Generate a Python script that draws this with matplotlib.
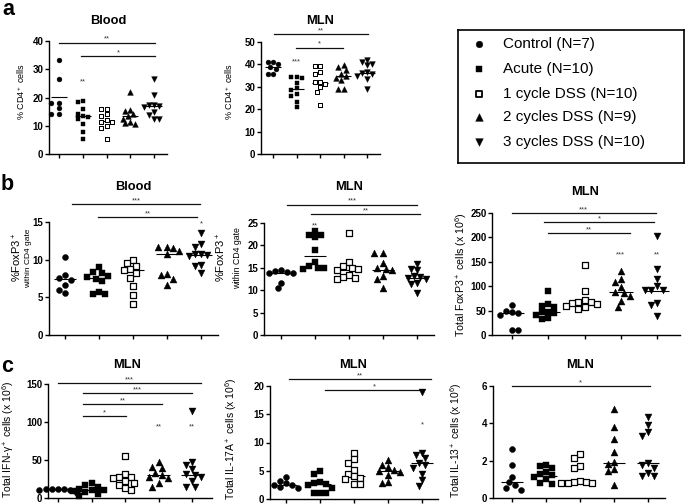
import numpy as np
import matplotlib
matplotlib.use("Agg")
import matplotlib.pyplot as plt

plt.rcParams["font.family"] = ["Liberation Sans", "DejaVu Sans"]
plt.rcParams["mathtext.fontset"] = "custom"
plt.rcParams["mathtext.rm"] = "Liberation Sans"
plt.rcParams["mathtext.it"] = "Liberation Sans:italic"
plt.rcParams["mathtext.bf"] = "Liberation Sans:bold"

W, H = 685, 504

groups = ["Control (N=7)", "Acute (N=10)", "1 cycle DSS (N=10)",
          "2 cycles DSS (N=9)", "3 cycles DSS (N=10)"]

# ---- panel a: % CD4+ cells ----
a_blood = [[33.3, 26.5, 18.0, 18.0, 16.2, 14.1, 14.1],
           [18.5, 18.7, 15.8, 14.3, 13.5, 13.0, 12.5, 10.5, 7.7, 5.3],
           [16.0, 15.8, 14.2, 13.3, 12.2, 11.5, 11.3, 10.0, 9.3, 5.3],
           [21.8, 15.6, 15.2, 14.0, 13.5, 12.5, 11.5, 10.8, 10.6],
           [26.6, 21.0, 17.5, 17.2, 17.0, 16.5, 15.0, 13.8, 12.5, 12.3]]
a_blood_med = [20.1, 13.3, 11.8, 13.5, 17.0]
a_blood_sig = [(0.0, 4.04, 39.4, "**"), (0.92, 4.04, 34.7, "*")]
a_blood_stars = [(1, 26.5, "**")]

a_mln = [[41.1, 41.1, 40.0, 38.9, 38.0, 35.9, 35.9],
         [34.4, 34.4, 34.1, 31.9, 29.3, 28.5, 27.0, 25.8, 23.3, 20.8],
         [39.2, 39.2, 36.6, 35.6, 32.3, 32.0, 31.3, 29.7, 27.7, 21.8],
         [39.9, 38.9, 37.7, 35.9, 34.6, 34.0, 32.9, 28.8, 28.8],
         [42.0, 41.1, 40.3, 39.6, 36.5, 36.0, 35.9, 35.0, 33.5, 28.8]]
a_mln_med = [38.9, 28.8, 31.7, 34.7, 36.2]
a_mln_sig = [(0.04, 4.04, 53.4, "**"), (0.96, 2.98, 47.5, "*")]
a_mln_stars = [(1, 42.6, "***")]

# ---- panel b: FoxP3 ----
b_blood = [[10.3, 7.9, 7.6, 7.3, 6.7, 6.0, 5.6],
           [9.0, 8.3, 8.2, 7.8, 7.7, 7.5, 7.2, 5.7, 5.5, 5.4],
           [10.0, 9.5, 9.2, 8.7, 8.6, 8.2, 7.6, 6.5, 5.3, 4.1],
           [11.7, 11.7, 11.6, 11.1, 10.8, 8.1, 8.0, 7.4, 6.6],
           [13.6, 12.1, 11.7, 10.8, 10.7, 10.6, 10.5, 9.3, 9.2, 8.2]]
b_blood_med = [7.4, 7.6, 8.6, 10.8, 10.6]
b_blood_sig = [(0.2, 3.98, 17.4, "***"), (0.98, 3.88, 15.6, "**")]
b_blood_stars = [(4, 15.1, "*")]

b_mln = [[14.4, 14.3, 14.0, 13.9, 13.8, 11.7, 10.4],
         [23.2, 22.4, 22.3, 21.8, 18.9, 16.3, 15.4, 15.0, 14.9, 14.8],
         [22.8, 16.3, 15.3, 15.0, 14.8, 14.4, 13.5, 13.0, 12.8, 12.6],
         [18.3, 18.3, 16.1, 15.0, 14.8, 14.6, 13.2, 12.4, 10.4],
         [15.8, 14.7, 14.4, 13.2, 12.9, 12.8, 12.5, 11.6, 11.3, 9.3]]
b_mln_med = [13.9, 17.6, 14.5, 14.6, 12.7]
b_mln_sig = [(0.18, 4.0, 29.1, "***"), (0.89, 4.1, 26.9, "**")]
b_mln_stars = [(1, 25.0, "**")]

b_total = [[61, 50, 48, 46, 42, 10, 10],
           [90, 64, 60, 58, 48, 47, 45, 40, 34, 32],
           [143, 90, 71, 68, 67, 65, 63, 60, 57, 54],
           [132, 115, 108, 98, 88, 86, 80, 70, 58],
           [202, 135, 114, 100, 93, 92, 92, 66, 62, 38]]
b_total_med = [46, 47, 66, 88, 91]
b_total_sig = [(0.0, 3.96, 250, "***"), (0.88, 3.92, 231, "*"), (0.98, 3.25, 209, "**")]
b_total_stars = [(3, 171, "***"), (4, 171, "**")]

# ---- panel c: cytokines ----
c_ifn = [[12.5, 12, 12, 11.5, 11, 11, 6],
         [20, 17, 14, 12, 11, 10, 9, 8, 5, 3],
         [55, 32, 28, 28, 26, 23, 20, 17, 13, 11],
         [48, 41, 40, 33, 30, 28, 26, 20, 14],
         [115, 47, 44, 38, 32, 30, 28, 22, 15, 14]]
c_ifn_med = [11.5, 10.5, 24, 29.7, 30.6]
c_ifn_sig = [(0.0, 4.28, 150.7, "***"), (0.75, 4.0, 137.6, "***"),
             (0.75, 3.11, 123.6, "**"), (0.75, 2.04, 107.9, "*")]
c_ifn_stars = [(3, 97, "**"), (4, 97, "**")]

c_il17 = [[3.9, 3.2, 2.8, 2.5, 2.4, 2.1, 2.0],
          [5.0, 4.4, 3.0, 2.8, 2.6, 2.4, 2.0, 1.1, 1.0, 1.0],
          [8.2, 7.0, 6.3, 5.1, 4.5, 4.0, 3.8, 3.5, 2.7, 2.6],
          [6.9, 6.0, 5.6, 5.2, 5.0, 4.7, 4.2, 3.0, 2.8],
          [19.0, 8.2, 7.7, 7.2, 6.4, 6.0, 5.5, 4.5, 3.3, 2.3]]
c_il17_med = [2.5, 2.6, 4.1, 5.0, 6.3]
c_il17_sig = [(0.08, 4.27, 21.2, "**"), (1.15, 4.03, 19.3, "*")]
c_il17_stars = [(4, 13.7, "*")]

c_il13 = [[2.63, 1.78, 1.15, 0.85, 0.67, 0.53, 0.41],
          [1.76, 1.74, 1.63, 1.37, 1.3, 1.25, 1.1, 1.0, 0.8, 0.76],
          [2.36, 2.13, 1.72, 1.63, 0.9, 0.88, 0.85, 0.82, 0.8, 0.8],
          [4.76, 3.8, 3.14, 2.49, 1.95, 1.83, 1.55, 1.42, 0.71],
          [4.35, 3.9, 3.55, 3.3, 1.86, 1.75, 1.6, 1.36, 1.2, 1.2]]
c_il13_med = [0.85, 1.2, 0.85, 1.9, 1.87]
c_il13_sig = [(0.0, 4.05, 6.0, "*")]
c_il13_stars = []

MARKERS = [("o", "k"), ("s", "k"), ("s", "w"), ("^", "k"), ("v", "k")]
MSIZE = [4.3, 4.0, 4.0, 5.0, 5.0]


def fig_axes(fig, L, R, T, B):
    return fig.add_axes([L / W, 1 - B / H, (R - L) / W, (B - T) / H])


def swarm_x(ax, gx, vals, d):
    trans = ax.transData
    inv = trans.inverted()
    placed = []
    out = np.zeros(len(vals))
    for i in np.argsort(vals)[::-1]:
        px, py = trans.transform((gx, vals[i]))
        cx = px
        done = False
        for k in range(0, 30):
            for sgn in ((0,) if k == 0 else (-1, 1)):
                cand = px + sgn * k * d * 0.5
                if all((cand - qx) ** 2 + (py - qy) ** 2 >= d * d for qx, qy in placed):
                    cx = cand
                    done = True
                    break
            if done:
                break
        placed.append((cx, py))
        out[i] = inv.transform((cx, py))[0]
    return out


def panel(fig, box, data, med, sig, stars, ymax, ystep, title, title_xy,
          scale=1.0):
    L, R, T, B, t0, t4 = box
    sp = (t4 - t0) / 4
    ax = fig_axes(fig, L, R, T, B)
    ax.set_xlim((L - t0) / sp, (R - t0) / sp)
    ax.set_ylim(0, ymax)
    for s in ("top", "right"):
        ax.spines[s].set_visible(False)
    for s in ("left", "bottom"):
        ax.spines[s].set_linewidth(1.0)
    ax.set_xticks(range(5))
    ax.set_xticklabels([])
    ax.set_yticks(np.arange(0, ymax + ystep / 2, ystep))
    ax.tick_params(direction="out", length=3, width=1, labelsize=7, pad=1)
    for lbl in ax.get_yticklabels():
        lbl.set_fontweight("bold")

    for g, vals in enumerate(data):
        xs = swarm_x(ax, g, vals, 6.2 * scale)
        m, fc = MARKERS[g]
        ax.scatter(xs, vals, marker=m, s=(MSIZE[g] * scale) ** 2, facecolor=fc,
                   edgecolor="k", linewidth=0.9 * scale if fc == "w" else 0.3,
                   zorder=3, clip_on=False)
        ax.hlines(med[g], g - 0.33, g + 0.33, color="k", lw=0.8, zorder=2)

    for x0, x1, y, lab in sig:
        ax.plot([x0, x1], [y, y], color="#111111", lw=0.9, clip_on=False)
        ax.text((x0 + x1) / 2, y, lab, ha="center", va="bottom",
                fontsize=5.5, color="#333333", clip_on=False)
    for g, y, lab in stars:
        ax.annotate(lab, (g, y), xytext=(0, -3.2), textcoords="offset points",
                    ha="center", va="baseline", fontsize=5.5, color="#333333",
                    annotation_clip=False)

    fig.text(title_xy[0] / W, 1 - title_xy[1] / H, title, ha="center",
             va="center", fontsize=9.3, fontweight="bold")
    return ax


def ylab(fig, x, y, text, size):
    fig.text(x / W, 1 - y / H, text, rotation=90, ha="center", va="center",
             fontsize=size)


fig = plt.figure(figsize=(W / 100, H / 100), dpi=100)

panel(fig, (49, 167, 41, 154, 59, 154), a_blood, a_blood_med, a_blood_sig,
      a_blood_stars, 40, 10, "Blood", (108, 21), scale=0.82)
panel(fig, (261, 380, 42, 154, 273, 367), a_mln, a_mln_med, a_mln_sig,
      a_mln_stars, 50, 10, "MLN", (320, 21), scale=0.82)
panel(fig, (49, 218, 222, 335, 65, 201), b_blood, b_blood_med, b_blood_sig,
      b_blood_stars, 15, 5, "Blood", (133, 187))
panel(fig, (264, 434, 223, 335, 281, 417), b_mln, b_mln_med, b_mln_sig,
      b_mln_stars, 25, 5, "MLN", (349, 187))
panel(fig, (492, 680, 213, 335, 512, 657), b_total, b_total_med, b_total_sig,
      b_total_stars, 250, 50, "MLN", (585, 192))
panel(fig, (48, 212, 384, 498, 58, 192), c_ifn, c_ifn_med, c_ifn_sig,
      c_ifn_stars, 150, 50, "MLN", (127, 365))
panel(fig, (270, 438, 386, 499, 286, 422), c_il17, c_il17_med, c_il17_sig,
      c_il17_stars, 20, 5, "MLN", (353, 365))
panel(fig, (493, 665, 386, 498, 512, 648), c_il13, c_il13_med, c_il13_sig,
      c_il13_stars, 6, 2, "MLN", (580, 365))

# y labels
ylab(fig, 21, 92, "% CD4$^+$ cells", 6.5)
ylab(fig, 229, 92, "% CD4$^+$ cells", 6.5)
ylab(fig, 17.5, 257, "%FoxP3$^+$", 8)
ylab(fig, 29, 258, "within CD4 gate", 6.0)
ylab(fig, 221, 257, "%FoxP3$^+$", 8)
ylab(fig, 237.5, 258, "within CD4 gate", 6.3)
ylab(fig, 461, 275, "Total FoxP3$^+$ cells (x 10$^6$)", 7.7)
ylab(fig, 8, 439, "Total IFN-γ$^+$ cells (x 10$^6$)", 7.5)
ylab(fig, 231, 439, "Total IL-17A$^+$ cells (x 10$^6$)", 7.5)
ylab(fig, 456, 440, "Total IL-13$^+$ cells (x 10$^6$)", 7.5)

# panel letters
for lab, x, y in (("a", 2, 15), ("b", 1, 190), ("c", 1, 372)):
    fig.text(x / W, 1 - y / H, lab, fontsize=15.5, fontweight="bold",
             va="baseline", ha="left")

# legend box
lax = fig_axes(fig, 458, 684, 30, 163)
lax.set_xlim(0, 1)
lax.set_ylim(0, 1)
lax.set_xticks([])
lax.set_yticks([])
for s in lax.spines.values():
    s.set_linewidth(1.2)
row_y = [0.895, 0.707, 0.519, 0.346, 0.158]
for g, name in enumerate(groups):
    m, fc = MARKERS[g]
    lax.scatter([0.093], [row_y[g]], marker=m, s=(MSIZE[g] + 0.5) ** 2,
                facecolor=fc, edgecolor="k", linewidth=1.3 if fc == "w" else 0.3)
    lax.text(0.2, row_y[g], name, fontsize=11, va="center", ha="left")

fig.savefig("out.png", dpi=100)
